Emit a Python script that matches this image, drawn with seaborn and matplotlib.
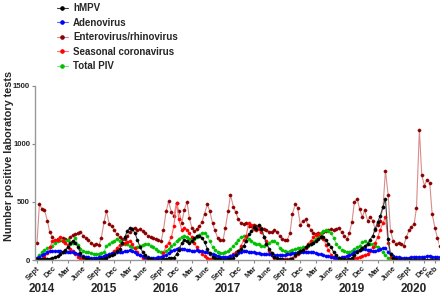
import numpy as np
import pandas as pd
import seaborn as sns
import matplotlib.pyplot as plt
from matplotlib.lines import Line2D

# semi-monthly samples, Sept 2014 -> Feb 2021
dates = pd.date_range('2014-09-01', periods=158, freq='SMS')

hmpv = [5, 5, 5, 8, 10, 12, 18, 25, 35, 50, 70, 85, 110, 150, 165, 150, 110, 60, 25, 10,
        5, 3, 3, 3, 3, 5, 8, 15, 35, 45, 55, 75, 95, 150, 200, 250, 275, 270, 230, 170,
        110, 70, 40, 20, 8, 4, 3, 3, 4, 6, 10, 15, 18, 20, 50, 90, 145, 175, 165, 150,
        165, 190, 205, 210, 190, 155, 95, 60, 30, 15, 8, 5, 4, 4, 5, 8, 15, 40, 75, 95,
        120, 165, 220, 250, 285, 270, 305, 270, 200, 140, 95, 60, 30, 15, 8, 5, 4, 4, 5, 8,
        40, 60, 75, 90, 110, 130, 140, 150, 160, 180, 200, 200, 170, 140, 110, 65, 40, 20, 10, 5,
        4, 5, 15, 40, 65, 90, 105, 120, 140, 175, 210, 270, 330, 380, 460, 530, 180, 50, 15, 8,
        4, 3, 3, 2, 2, 2, 3, 3, 2, 2, 2, 3, 2, 2, 2, 2, 2, 2]

adeno = [15, 25, 45, 55, 65, 75, 78, 80, 78, 75, 72, 68, 70, 72, 68, 64, 55, 45, 35, 28,
         22, 20, 20, 20, 22, 28, 35, 45, 52, 58, 62, 66, 70, 72, 75, 78, 82, 80, 70, 55,
         40, 32, 25, 22, 20, 20, 20, 22, 25, 35, 45, 60, 78, 90, 98, 102, 98, 95, 90, 85,
         78, 80, 84, 80, 75, 70, 65, 55, 48, 40, 35, 30, 28, 28, 30, 35, 40, 50, 60, 70,
         78, 75, 70, 68, 65, 62, 58, 55, 52, 50, 48, 45, 43, 42, 40, 40, 42, 48, 52, 60,
         64, 66, 70, 70, 68, 70, 70, 68, 62, 55, 50, 45, 38, 32, 25, 22, 20, 20, 22, 28,
         35, 45, 55, 65, 80, 90, 93, 93, 90, 85, 80, 78, 90, 95, 100, 105, 65, 50, 38, 28,
         22, 20, 18, 18, 20, 22, 25, 26, 26, 28, 30, 33, 35, 30, 26, 24, 22, 20]

entero = [150, 480, 440, 430, 340, 240, 200, 165, 180, 170, 190, 180, 175, 200, 215, 225, 230, 240, 210, 190,
          170, 150, 130, 140, 130, 190, 330, 420, 310, 290, 260, 220, 195, 185, 180, 205, 240, 270, 280, 255,
          265, 250, 230, 210, 195, 190, 180, 170, 160, 260, 420, 505, 410, 380, 495, 420, 320, 430, 500, 360,
          280, 250, 270, 290, 330, 400, 480, 420, 320, 255, 190, 170, 170, 280, 420, 560, 460, 410, 350, 320,
          310, 320, 290, 290, 300, 290, 290, 280, 270, 255, 245, 240, 260, 240, 210, 185, 170, 175, 235, 400,
          480, 450, 300, 335, 350, 300, 260, 230, 220, 235, 220, 240, 250, 260, 265, 260, 270, 280, 240, 210,
          180, 230, 330, 500, 525, 440, 370, 430, 340, 370, 340, 260, 300, 340, 460, 770, 560, 250, 160, 140,
          150, 140, 125, 195, 255, 285, 310, 450, 1120, 730, 640, 690, 665, 400, 275, 190, 125, 160]

corona = [5, 5, 10, 25, 60, 110, 160, 175, 170, 195, 165, 145, 130, 95, 80, 50, 30, 20, 12, 8,
          5, 5, 5, 5, 5, 10, 15, 20, 40, 55, 75, 100, 130, 140, 145, 155, 165, 140, 100, 70,
          40, 20, 10, 5, 5, 5, 5, 5, 5, 60, 120, 150, 200, 290, 490, 350, 260, 280, 260, 230,
          195, 145, 110, 80, 55, 35, 20, 10, 5, 5, 5, 5, 5, 10, 20, 35, 55, 70, 75, 120,
          170, 210, 320, 300, 270, 255, 265, 245, 200, 160, 80, 40, 15, 8, 5, 5, 5, 5, 5, 15,
          35, 55, 70, 80, 100, 140, 165, 195, 215, 225, 200, 180, 130, 90, 40, 20, 10, 5, 5, 5,
          5, 5, 10, 15, 20, 30, 35, 45, 55, 75, 110, 150, 200, 260, 320, 370, 150, 30, 10, 3,
          2, 2, 2, 2, 2, 2, 2, 2, 2, 2, 2, 2, 2, 2, 2, 2, 2, 2]

piv = [20, 40, 65, 85, 100, 110, 125, 150, 165, 185, 160, 165, 170, 140, 150, 190, 130, 95, 80, 70,
       65, 60, 55, 50, 52, 60, 70, 120, 140, 155, 165, 185, 165, 150, 140, 135, 125, 115, 105, 115,
       122, 130, 135, 137, 125, 115, 95, 80, 65, 70, 78, 95, 120, 140, 165, 185, 200, 205, 200, 185,
       180, 185, 195, 215, 235, 230, 205, 160, 115, 90, 70, 62, 62, 66, 75, 95, 120, 150, 175, 200,
       205, 200, 180, 165, 150, 140, 137, 125, 125, 140, 150, 165, 160, 145, 105, 90, 80, 72, 75, 90,
       95, 100, 105, 110, 115, 125, 135, 160, 180, 210, 235, 250, 255, 250, 230, 190, 140, 110, 90, 75,
       65, 70, 80, 95, 110, 125, 155, 160, 150, 140, 137, 125, 115, 95, 65, 40, 20, 8, 4, 2,
       2, 2, 2, 2, 2, 2, 2, 2, 2, 2, 2, 2, 2, 2, 2, 2, 2, 2]

tick_dates = pd.to_datetime(
    [f'{y}-{m:02d}-01' for y in range(2014, 2021) for m in (3, 6, 9, 12)
     if pd.Timestamp(f'{y}-{m:02d}-01') >= pd.Timestamp('2014-09-01')] + ['2021-02-01'])
month_names = {3: 'Mar', 6: 'June', 9: 'Sept', 12: 'Dec', 2: 'Feb'}
tick_labels = [month_names[d.month] for d in tick_dates]
years = ['2014', '2015', '2016', '2017', '2018', '2019', '2020']

sns.set_style('white')
plt.rcParams['font.family'] = ['Liberation Sans', 'DejaVu Sans']
plt.rcParams['font.weight'] = 'bold'

fig = plt.figure(figsize=(4.4, 2.95), dpi=100)
ax = fig.add_axes([0.0795, 0.1186, 0.918, 0.590])

# (name, values, marker colour, line colour)
series = [
    ('Enterovirus/rhinovirus', entero, '#8b0000', '#d98c8c'),
    ('Total PIV', piv, '#00c000', '#80e080'),
    ('Seasonal coronavirus', corona, '#ff0000', '#ff7070'),
    ('Adenovirus', adeno, '#0000ff', '#6060ff'),
    ('hMPV', hmpv, '#000000', '#404040'),
]
for name, vals, mc, lc in series:
    sns.lineplot(x=dates, y=vals, ax=ax, color=lc, lw=0.8, marker='o', markersize=2.3,
                 markerfacecolor=mc, markeredgecolor=mc, markeredgewidth=0.3)

ax.set_ylim(0, 1500)
ax.set_yticks([0, 500, 1000, 1500])
ax.set_xlim(pd.Timestamp('2014-08-20'), pd.Timestamp('2021-02-24'))
ax.set_xticks(tick_dates)
ax.set_xticklabels(tick_labels, rotation=45, ha='right', rotation_mode='anchor', fontsize=5.5)
ax.tick_params(axis='y', labelsize=5.6, length=2.5, width=0.8, color='#888888', pad=1)
ax.tick_params(axis='x', length=2, width=0.8, color='#888888', pad=1.5)
ax.tick_params(bottom=True, left=True)
sns.despine(ax=ax)
for s in ('left', 'bottom'):
    ax.spines[s].set_color('#999999')
    ax.spines[s].set_linewidth(1.0)

# label anchor is its right edge (va='bottom' on a rotated label)
ax.set_ylabel('Number positive laboratory tests', fontsize=7.8, fontweight='bold')
ax.yaxis.set_label_coords(-0.052, 0.6)
ax.set_xlabel('')

for i, yr in enumerate(years):
    ax.text(pd.Timestamp(f'{yr}-10-01'), -0.167, yr, transform=ax.get_xaxis_transform(),
            ha='center', va='center', fontsize=8.5, fontweight='bold')

handles = []
labels = []
for name in ['hMPV', 'Adenovirus', 'Enterovirus/rhinovirus', 'Seasonal coronavirus', 'Total PIV']:
    _, _, mc, lc = [s for s in series if s[0] == name][0]
    handles.append(Line2D([], [], color=lc, lw=0.8, marker='o', markersize=2.3,
                          markerfacecolor=mc, markeredgecolor=mc))
    labels.append(name)
fig.legend(handles, labels, loc='upper left', bbox_to_anchor=(0.113, 1.012), frameon=False,
           fontsize=7, handlelength=1.2, handletextpad=0.5, labelspacing=0.46, borderpad=0.2)

plt.savefig('out.png', dpi=100)
